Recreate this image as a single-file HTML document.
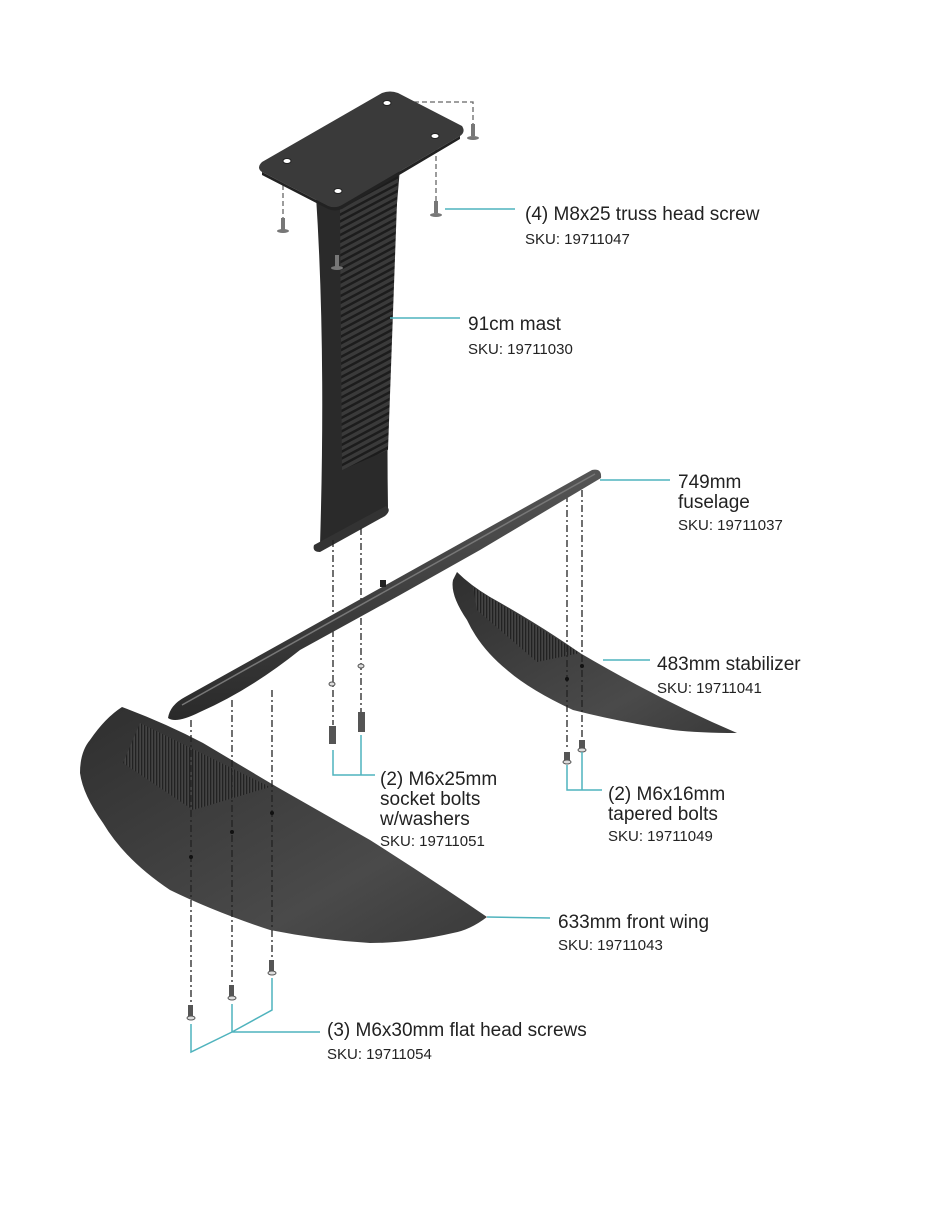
<!DOCTYPE html>
<html><head><meta charset="utf-8"><style>
html,body{margin:0;padding:0;background:#fff;}
svg{display:block;}
text{font-family:"Liberation Sans",sans-serif;fill:#222;}
.t{font-size:19px;}
.s{font-size:15px;}
</style></head><body>
<svg width="934" height="1208" viewBox="0 0 934 1208" xmlns="http://www.w3.org/2000/svg">
<defs>
<pattern id="hatch" width="6" height="6" patternUnits="userSpaceOnUse" patternTransform="rotate(-28)">
<rect width="6" height="6" fill="#3a3a3a"/><rect width="6" height="2.5" fill="#1c1c1c"/></pattern>
<pattern id="vh" width="3" height="3" patternUnits="userSpaceOnUse"><rect width="3" height="3" fill="#444"/><rect width="1.3" height="3" fill="#222"/></pattern>
<linearGradient id="wg" x1="0" y1="0" x2="1" y2="1"><stop offset="0" stop-color="#2f2f2f"/><stop offset="0.7" stop-color="#4a4a4a"/><stop offset="1" stop-color="#3a3a3a"/></linearGradient>
<linearGradient id="fg" x1="0" y1="0" x2="0" y2="1"><stop offset="0" stop-color="#555"/><stop offset="1" stop-color="#2a2a2a"/></linearGradient>
</defs>
<g fill="none" stroke="#666" stroke-width="1.3" stroke-dasharray="5,3">
<path d="M390 102 L473 102 L473 128"/>
<path d="M283 185 L283 218"/>
<path d="M436 140 L436 202"/>
<path d="M337 195 L337 255"/>
</g>
<!-- mast -->
<path d="M316 196 Q326 350 320 545 L388 508 Q385 330 400 168 Z" fill="#2a2a2a"/>
<path d="M340 205 L398 175 L388 450 L342 470 Z" fill="url(#hatch)"/>
<path d="M314 545 Q312 552 320 552 L385 516 Q392 510 386 506 Z" fill="#333"/>
<!-- plate -->
<path d="M262 162 L382 93 Q390 90 398 93 L462 126 Q466 132 460 136 L342 205 Q335 209 328 206 L262 172 Q256 168 262 162 Z" fill="#3a3a3a"/>
<path d="M262 172 L328 206 Q335 209 342 205 L460 136 L460 139 L342 209 Q335 212 328 209 L262 175 Z" fill="#222"/>
<g fill="#fff" stroke="#222"><ellipse cx="387" cy="103" rx="4" ry="2.5"/><ellipse cx="435" cy="136" rx="4" ry="2.5"/><ellipse cx="287" cy="161" rx="4" ry="2.5"/><ellipse cx="338" cy="191" rx="4" ry="2.5"/></g>
<!-- top screws -->
<g fill="#777"><rect x="471" y="124" width="4" height="12"/><ellipse cx="473" cy="138" rx="6" ry="2"/>
<rect x="281" y="218" width="4" height="12"/><ellipse cx="283" cy="231" rx="6" ry="2"/>
<rect x="434" y="201" width="4" height="12"/><ellipse cx="436" cy="215" rx="6" ry="2"/>
<rect x="335" y="255" width="4" height="12"/><ellipse cx="337" cy="268" rx="6" ry="2"/></g>
<!-- stabilizer -->
<path d="M457 572 Q470 585 490 597 Q540 625 580 653 Q660 700 737 733 Q700 733 673 730 Q620 722 573 710 Q530 690 507 670 Q480 648 467 620 Q450 595 453 580 Z" fill="url(#wg)"/>
<path d="M473 587 L580 653 L537 662 L477 610 Z" fill="url(#vh)"/>
<!-- front wing -->
<path d="M122 707 Q165 723 203 743 L277 787 L370 840 Q430 878 487 917 Q470 930 453 933 Q410 943 370 943 Q320 940 270 930 Q215 912 170 890 Q125 860 103 823 Q83 795 80 773 Q80 752 90 740 Q105 718 122 707 Z" fill="url(#wg)"/>
<path d="M140 723 L270 787 L193 810 L123 763 Z" fill="url(#vh)"/>
<!-- dashed over parts -->
<g fill="none" stroke="#222" stroke-width="1.3" stroke-dasharray="7,3,2,3">
<path d="M333 540 L333 725"/>
<path d="M361 528 L361 712"/>
<path d="M191 720 L191 1005"/>
<path d="M232 700 L232 985"/>
<path d="M272 690 L272 960"/>
<path d="M567 495 L567 750"/>
<path d="M582 490 L582 740"/>
</g>
<!-- fuselage -->
<path d="M168 718 Q170 705 185 697 L592 470 Q602 468 601 478 L480 550 L400 595 L300 650 Q250 690 200 712 Q176 724 168 718 Z" fill="url(#fg)"/>
<path d="M182 705 L595 474" stroke="#777" stroke-width="1.5"/>
<rect x="380" y="580" width="6" height="7" fill="#222"/>
<g fill="#111"><circle cx="191" cy="857" r="2"/><circle cx="232" cy="832" r="2"/><circle cx="272" cy="813" r="2"/><circle cx="567" cy="679" r="2"/><circle cx="582" cy="666" r="2"/></g>
<!-- bolts -->
<g fill="#555"><rect x="329" y="726" width="7" height="18"/><rect x="358" y="712" width="7" height="20"/>
<rect x="564" y="752" width="6" height="10"/><rect x="579" y="740" width="6" height="10"/>
<rect x="188" y="1005" width="5" height="13"/><rect x="229" y="985" width="5" height="13"/><rect x="269" y="960" width="5" height="13"/></g>
<g fill="#ddd" stroke="#555"><ellipse cx="332" cy="684" rx="3" ry="2"/><ellipse cx="361" cy="666" rx="3" ry="2"/><ellipse cx="567" cy="762" rx="4" ry="2"/><ellipse cx="582" cy="750" rx="4" ry="2"/>
<ellipse cx="191" cy="1018" rx="4" ry="2"/><ellipse cx="232" cy="998" rx="4" ry="2"/><ellipse cx="272" cy="973" rx="4" ry="2"/></g>
<!-- teal lines -->
<g fill="none" stroke="#4fb3bd" stroke-width="1.5">
<path d="M445 209 L515 209"/>
<path d="M390 318 L460 318"/>
<path d="M600 480 L670 480"/>
<path d="M603 660 L650 660"/>
<path d="M333 750 L333 775 L375 775 M361 735 L361 775"/>
<path d="M567 765 L567 790 L602 790 M582 752 L582 790"/>
<path d="M487 917 L550 918"/>
<path d="M191 1024 L191 1052 L232 1032 M232 1004 L232 1032 M272 978 L272 1010 L232 1032 M232 1032 L320 1032"/>
</g>
<text class="t" x="525" y="220">(4) M8x25 truss head screw</text>
<text class="s" x="525" y="244">SKU: 19711047</text>
<text class="t" x="468" y="330">91cm mast</text>
<text class="s" x="468" y="354">SKU: 19711030</text>
<text class="t" x="678" y="488">749mm</text>
<text class="t" x="678" y="508">fuselage</text>
<text class="s" x="678" y="530">SKU: 19711037</text>
<text class="t" x="657" y="670">483mm stabilizer</text>
<text class="s" x="657" y="693">SKU: 19711041</text>
<text class="t" x="380" y="785">(2) M6x25mm</text>
<text class="t" x="380" y="805">socket bolts</text>
<text class="t" x="380" y="825">w/washers</text>
<text class="s" x="380" y="846">SKU: 19711051</text>
<text class="t" x="608" y="800">(2) M6x16mm</text>
<text class="t" x="608" y="820">tapered bolts</text>
<text class="s" x="608" y="841">SKU: 19711049</text>
<text class="t" x="558" y="928">633mm front wing</text>
<text class="s" x="558" y="950">SKU: 19711043</text>
<text class="t" x="327" y="1036">(3) M6x30mm flat head screws</text>
<text class="s" x="327" y="1059">SKU: 19711054</text>
</svg>
</body></html>
